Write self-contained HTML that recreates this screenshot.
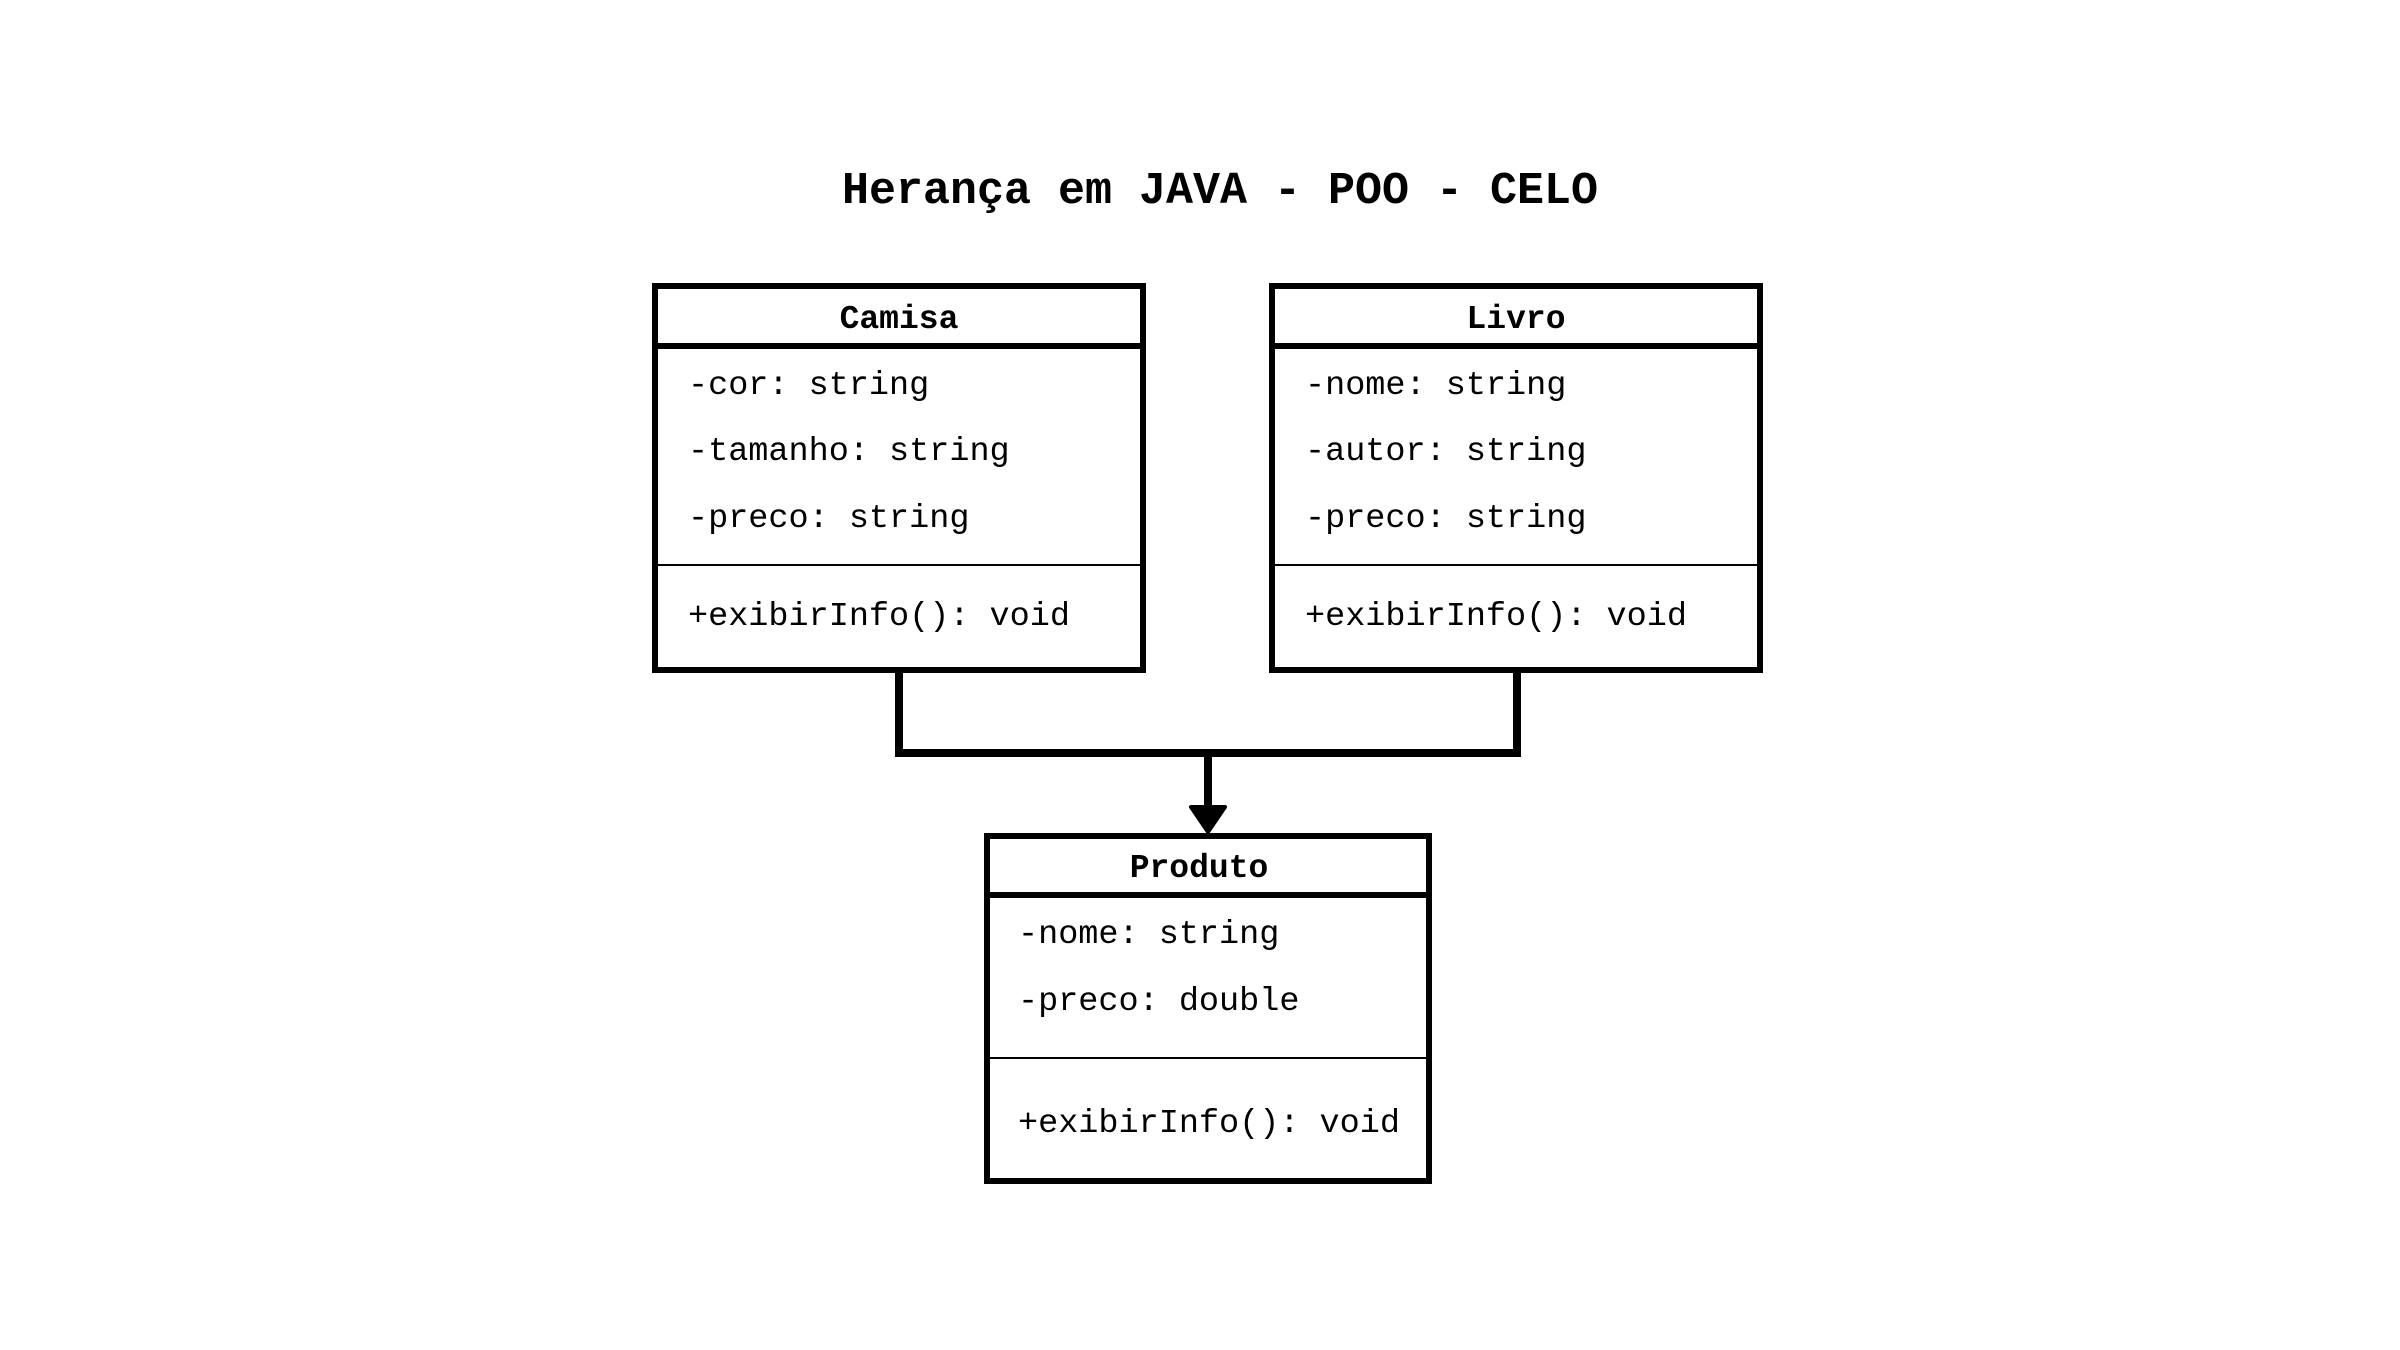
<!DOCTYPE html>
<html><head><meta charset="utf-8"><style>
html,body{margin:0;padding:0;background:#fff;}
svg{display:block;}
text{font-family:"Liberation Mono","DejaVu Sans Mono",monospace;fill:#000;}
.t{font-size:33.5px;}
.b{font-size:33px;font-weight:bold;}
</style></head><body>
<svg width="2400" height="1350" viewBox="0 0 2400 1350" xmlns="http://www.w3.org/2000/svg">
<rect width="2400" height="1350" fill="#fff"/>
<text x="1220" y="203" text-anchor="middle" style="font-size:45px;font-weight:bold">Herança em JAVA - POO - CELO</text>

<!-- connectors -->
<polyline points="899,673 899,753 1517,753 1517,673" fill="none" stroke="#000" stroke-width="8"/>
<line x1="1208" y1="753" x2="1208" y2="810" stroke="#000" stroke-width="8"/>
<polygon points="1191,807 1225,807 1208,832" fill="#000" stroke="#000" stroke-width="4" stroke-linejoin="round"/>

<!-- Camisa -->
<rect x="655" y="286" width="488" height="384" fill="none" stroke="#000" stroke-width="6"/>
<line x1="652" y1="346" x2="1146" y2="346" stroke="#000" stroke-width="6"/>
<line x1="655" y1="565" x2="1143" y2="565" stroke="#000" stroke-width="2"/>
<text class="b" x="899" y="328" text-anchor="middle">Camisa</text>
<text class="t" x="688" y="394">-cor: string</text>
<text class="t" x="688" y="460">-tamanho: string</text>
<text class="t" x="688" y="527">-preco: string</text>
<text class="t" x="688" y="625">+exibirInfo(): void</text>

<!-- Livro -->
<rect x="1272" y="286" width="488" height="384" fill="none" stroke="#000" stroke-width="6"/>
<line x1="1269" y1="346" x2="1763" y2="346" stroke="#000" stroke-width="6"/>
<line x1="1272" y1="565" x2="1760" y2="565" stroke="#000" stroke-width="2"/>
<text class="b" x="1516" y="328" text-anchor="middle">Livro</text>
<text class="t" x="1305" y="394">-nome: string</text>
<text class="t" x="1305" y="460">-autor: string</text>
<text class="t" x="1305" y="527">-preco: string</text>
<text class="t" x="1305" y="625">+exibirInfo(): void</text>

<!-- Produto -->
<rect x="987" y="836" width="442" height="345" fill="none" stroke="#000" stroke-width="6"/>
<line x1="984" y1="895" x2="1432" y2="895" stroke="#000" stroke-width="6"/>
<line x1="987" y1="1058" x2="1429" y2="1058" stroke="#000" stroke-width="2"/>
<text class="b" x="1199" y="877" text-anchor="middle">Produto</text>
<text class="t" x="1018" y="943">-nome: string</text>
<text class="t" x="1018" y="1010">-preco: double</text>
<text class="t" x="1018" y="1132">+exibirInfo(): void</text>
</svg>
</body></html>
